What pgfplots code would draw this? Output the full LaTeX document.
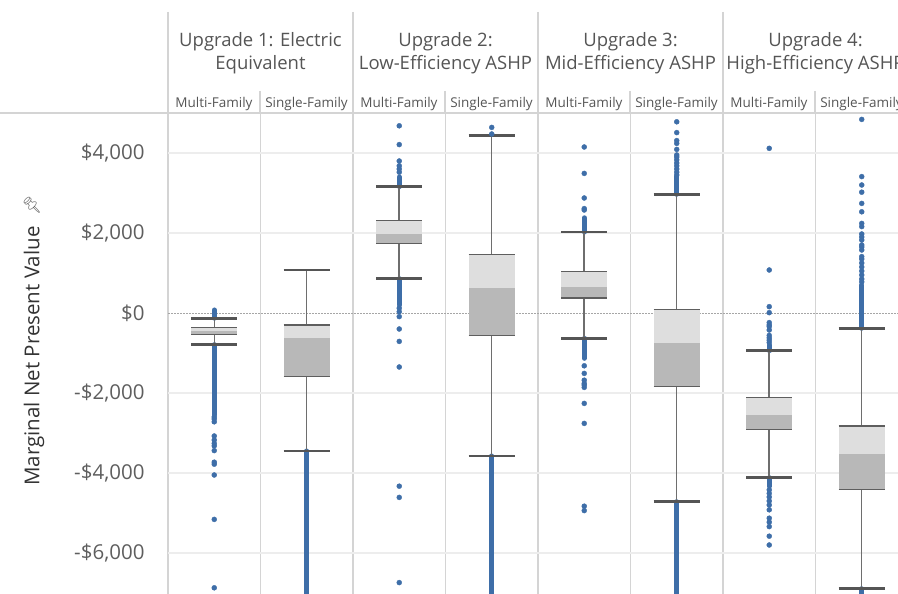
\documentclass[border=0pt]{standalone}
\usepackage{fontspec}
\setmainfont{Open Sans}
\newfontfamily\emojifont{Noto Emoji}
\usepackage{pgfplots}
\pgfplotsset{compat=1.18}
\definecolor{hdr}{HTML}{555555}
\definecolor{tick}{HTML}{5E5E5E}
\definecolor{sep}{HTML}{D4D4D4}
\definecolor{gridc}{HTML}{EDEDED}
\definecolor{boxlt}{HTML}{DEDEDE}
\definecolor{boxdk}{HTML}{B8B8B8}
\definecolor{whc}{HTML}{6E6E6E}
\definecolor{capc}{HTML}{555555}
\definecolor{outc}{HTML}{3E6EA8}
\pgfplotsset{
  whisk/.style={whc, line width=1.5pt, no markers},
  edge/.style={whc!85!black, line width=1.5pt, no markers},
  cap/.style={capc, line width=2.8pt, no markers},
  dense/.style={outc, line width=5pt, line cap=round, no markers},
  dots/.style={only marks, mark=*, mark size=2.5pt, outc, mark options={draw=none, fill=outc}},
}
\newcommand{\bx}[8]{%
 \addplot[fill=boxlt, draw=none] coordinates {(#1,#6) (#3,#6) (#3,#7) (#1,#7)} --cycle;
 \addplot[fill=boxdk, draw=none] coordinates {(#1,#5) (#3,#5) (#3,#6) (#1,#6)} --cycle;
 \addplot[whisk] coordinates {(#2,#7) (#2,#8)};
 \addplot[whisk] coordinates {(#2,#5) (#2,#4)};
 \addplot[edge] coordinates {(#1,#7) (#3,#7)};
 \addplot[edge] coordinates {(#1,#5) (#3,#5)};
 \addplot[cap] coordinates {(#1,#8) (#3,#8)};
 \addplot[cap] coordinates {(#1,#4) (#3,#4)};
}
\begin{document}
\begin{tikzpicture}
\useasboundingbox (0,0) rectangle (898pt,594pt);
\clip (0,0) rectangle (898pt,594pt);
\begin{axis}[
  at={(168pt,0pt)}, anchor=south west,
  scale only axis, width=740pt, height=481pt,
  xmin=-0.5, xmax=7.5, ymin=-7025, ymax=5000,
  axis line style={draw=none},
  xtick={-0.5,0.5,1.5,2.5,3.5,4.5,5.5,6.5,7.5}, xticklabels={},
  xmajorgrids, x grid style={sep, line width=1.3pt},
  ytick={-6000,-4000,-2000,2000,4000},
  yticklabels={{-\$6,000},{-\$4,000},{-\$2,000},{\$2,000},{\$4,000}},
  extra y ticks={0}, extra y tick labels={{\$0}},
  extra y tick style={ymajorgrids, y grid style={color=black!35, line width=0.8pt, dash pattern=on 1.5pt off 1.5pt}},
  ymajorgrids, y grid style={gridc, line width=1.3pt},
  major tick length=0pt,
  yticklabel style={anchor=east, font=\fontsize{20.5}{24}\selectfont, text=tick, xshift=-20pt},
  clip=true,
]
% ---- outliers ----
\addplot[dense] coordinates {(0,75) (0,-130)};
\addplot[dense] coordinates {(0,-790) (0,-2550)};
\addplot[dots] coordinates {(0,-2600) (0,-2650) (0,-2720) (0,-3075) (0,-3175) (0,-3260) (0,-3320) (0,-3440) (0,-3730) (0,-3780) (0,-4050) (0,-5160) (0,-6870)};
\addplot[dense] coordinates {(1,-3450) (1,-7100)};
\addplot[dense] coordinates {(2,3160) (2,3400)};
\addplot[dense] coordinates {(2,858) (2,200)};
\addplot[dots] coordinates {(2,3520) (2,3600) (2,3680) (2,3800) (2,4210) (2,4680) (2,120) (2,33) (2,-90) (2,-400) (2,-710) (2,-1350) (2,-4330) (2,-4610) (2,-6740)};
\addplot[dots] coordinates {(3,4475) (3,4640)};
\addplot[dense] coordinates {(3,-3575) (3,-7100)};
\addplot[dense] coordinates {(4,2025) (4,2380)};
\addplot[dense] coordinates {(4,-633) (4,-1133)};
\addplot[dots] coordinates {(4,2575) (4,2610) (4,2875) (4,3490) (4,4150) (4,-1320) (4,-1510) (4,-1680) (4,-1760) (4,-1800) (4,-1860) (4,-2260) (4,-2760) (4,-4830) (4,-4940)};
\addplot[dense] coordinates {(5,2967) (5,3410)};
\addplot[dense] coordinates {(5,-4717) (5,-7100)};
\addplot[dots] coordinates {(5,3450) (5,3520) (5,3600) (5,3680) (5,3750) (5,3830) (5,3900) (5,3950) (5,4090) (5,4240) (5,4310) (5,4510) (5,4780)};
\addplot[dense] coordinates {(6,-942) (6,-800)};
\addplot[dense] coordinates {(6,-4117) (6,-4333)};
\addplot[dots] coordinates {(6,-740) (6,-680) (6,-620) (6,-560) (6,-425) (6,-340) (6,-300) (6,-240) (6,8) (6,158) (6,1075) (6,4117) (6,-4420) (6,-4510) (6,-4600) (6,-4700) (6,-4800) (6,-4920) (6,-5130) (6,-5230) (6,-5340) (6,-5580) (6,-5800)};
\addplot[dense] coordinates {(7,-383) (7,700)};
\addplot[dense] coordinates {(7,-6892) (7,-7100)};
\addplot[dots] coordinates {(7,780) (7,850) (7,950) (7,1050) (7,1150) (7,1250) (7,1350) (7,1410) (7,1575) (7,1650) (7,1700) (7,1825) (7,1900) (7,1975) (7,2160) (7,2240) (7,2530) (7,2740) (7,3020) (7,3200) (7,3410) (7,4840)};
% ---- boxes ----
\bx{-0.25}{0}{0.25}{-790}{-540}{-460}{-360}{-130}
\bx{0.75}{1}{1.25}{-3450}{-1592}{-633}{-300}{1075}
\bx{1.75}{2}{2.25}{858}{1733}{1983}{2317}{3158}
\bx{2.75}{3}{3.25}{-3575}{-567}{633}{1458}{4433}
\bx{3.75}{4}{4.25}{-633}{375}{658}{1042}{2025}
\bx{4.75}{5}{5.25}{-4717}{-1842}{-742}{92}{2967}
\bx{5.75}{6}{6.25}{-4117}{-2908}{-2550}{-2117}{-942}
\bx{6.75}{7}{7.25}{-6892}{-4408}{-3533}{-2825}{-383}
\end{axis}
% ---- header ----
\draw[sep, line width=1.3pt] (0,481pt) -- (898pt,481pt);
\foreach \x in {168,353,538,723} \draw[sep, line width=1.3pt] (\x pt,582pt) -- (\x pt,481pt);
\foreach \x in {260,445,630,815} \draw[sep, line width=1.3pt] (\x pt,503pt) -- (\x pt,481pt);
\begin{scope}[every node/.style={anchor=base, text=hdr, font=\fontsize{18.5}{22}\selectfont, inner sep=0pt}]
\node at (260.5pt,547pt) {Upgrade 1: Electric};
\node at (260.5pt,524pt) {Equivalent};
\node at (445.5pt,547pt) {Upgrade 2:};
\node at (445.5pt,524pt) {Low-Efficiency ASHP};
\node at (630.5pt,547pt) {Upgrade 3:};
\node at (630.5pt,524pt) {Mid-Efficiency ASHP};
\node at (815.5pt,547pt) {Upgrade 4:};
\node at (815.5pt,524pt) {High-Efficiency ASHP};
\end{scope}
\begin{scope}[every node/.style={anchor=base, text=hdr, font=\fontsize{13.5}{16}\selectfont, inner sep=0pt}]
\foreach \x/\t in {214/Multi-Family,306.5/Single-Family,399/Multi-Family,491.5/Single-Family,584/Multi-Family,676.5/Single-Family,769/Multi-Family,861.5/Single-Family}
  \node at (\x pt,486pt) {\t};
\end{scope}
% ---- y label ----
\node[rotate=90, anchor=center, text=black!80, font=\fontsize{20.5}{24}\selectfont, inner sep=0pt] at (34pt,238pt) {Marginal Net Present Value};
\node[rotate=90, anchor=center, text=black!60, font=\emojifont\fontsize{16}{18}\selectfont, inner sep=0pt] at (32pt,389pt) {📌};
\end{tikzpicture}
\end{document}
